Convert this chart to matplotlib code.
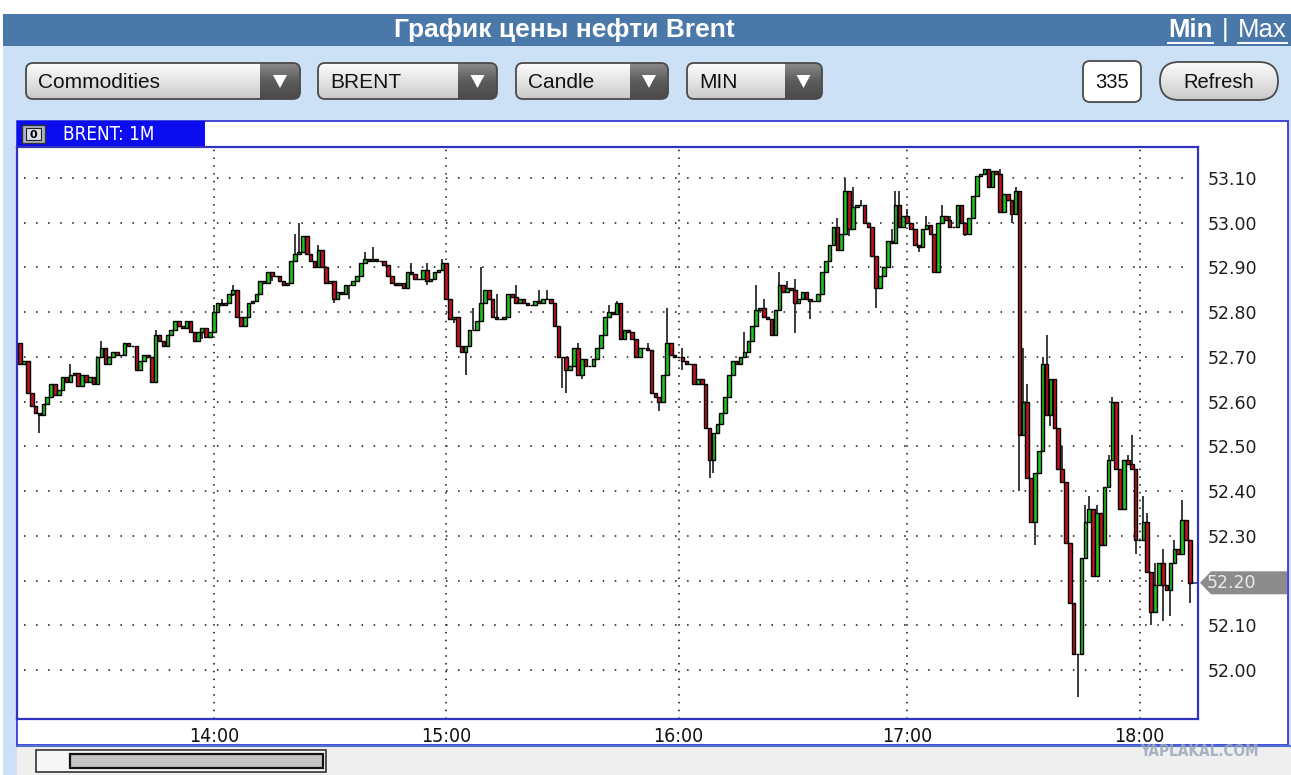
import matplotlib
matplotlib.use('Agg')
import matplotlib.pyplot as plt
from matplotlib.patches import FancyBboxPatch, Rectangle, Polygon
from matplotlib.colors import LinearSegmentedColormap
import numpy as np

# ---------------- data (BRENT, 1-minute candles) ----------------
first_open = 52.73
closes = [
    52.685, 52.69, 52.62, 52.59, 52.575, 52.57, 52.595, 52.61, 52.64, 52.615,      # 0
    52.625, 52.655, 52.645, 52.66, 52.665, 52.635, 52.66, 52.645, 52.655, 52.64,   # 10
    52.70, 52.72, 52.685, 52.70, 52.71, 52.705, 52.705, 52.73, 52.725, 52.725,     # 20
    52.67, 52.69, 52.705, 52.70, 52.645, 52.75, 52.735, 52.725, 52.75, 52.76,      # 30
    52.78, 52.77, 52.765, 52.78, 52.755, 52.735, 52.755, 52.765, 52.745, 52.755,   # 40
    52.80, 52.82, 52.815, 52.82, 52.84, 52.85, 52.79, 52.77, 52.79, 52.82,         # 50
    52.825, 52.84, 52.87, 52.865, 52.89, 52.88, 52.88, 52.87, 52.86, 52.865,       # 60
    52.915, 52.93, 52.935, 52.97, 52.93, 52.915, 52.90, 52.94, 52.90, 52.865,      # 70
    52.87, 52.83, 52.845, 52.84, 52.86, 52.86, 52.87, 52.88, 52.91, 52.92,         # 80
    52.915, 52.92, 52.915, 52.915, 52.905, 52.88, 52.865, 52.86, 52.865, 52.855,   # 90
    52.89, 52.885, 52.875, 52.875, 52.895, 52.87, 52.875, 52.89, 52.895, 52.91,    # 100
    52.83, 52.785, 52.79, 52.725, 52.71, 52.725, 52.76, 52.76, 52.78, 52.82,       # 110
    52.85, 52.83, 52.79, 52.785, 52.785, 52.79, 52.84, 52.835, 52.82, 52.83,       # 120
    52.82, 52.815, 52.815, 52.825, 52.82, 52.83, 52.83, 52.82, 52.77, 52.70,       # 130
    52.70, 52.67, 52.68, 52.72, 52.66, 52.695, 52.68, 52.68, 52.695, 52.72,        # 140
    52.75, 52.79, 52.80, 52.795, 52.82, 52.74, 52.76, 52.755, 52.74, 52.70,        # 150
    52.72, 52.72, 52.715, 52.62, 52.61, 52.60, 52.66, 52.73, 52.705, 52.70,        # 160
    52.70, 52.69, 52.685, 52.685, 52.64, 52.65, 52.64, 52.54, 52.47, 52.53,        # 170
    52.55, 52.575, 52.61, 52.66, 52.69, 52.685, 52.70, 52.71, 52.735, 52.77,       # 180
    52.805, 52.81, 52.79, 52.785, 52.75, 52.805, 52.86, 52.845, 52.855, 52.85,     # 190
    52.82, 52.83, 52.845, 52.83, 52.825, 52.825, 52.84, 52.89, 52.915, 52.95,      # 200
    52.99, 52.94, 52.975, 53.07, 52.985, 53.035, 53.04, 53.04, 53.00, 52.99,       # 210
    52.925, 52.855, 52.88, 52.90, 52.96, 52.955, 53.04, 52.99, 53.015, 53.00,      # 220
    52.985, 52.95, 52.945, 52.985, 52.995, 52.975, 52.89, 53.00, 53.015, 53.005,   # 230
    52.99, 52.99, 53.04, 53.00, 52.975, 53.01, 53.06, 53.105, 53.11, 53.12,        # 240
    53.08, 53.115, 53.11, 53.025, 53.065, 53.05, 53.02, 53.07, 52.525, 52.60,      # 250
    52.43, 52.33, 52.44, 52.49, 52.685, 52.57, 52.65, 52.54, 52.45, 52.42,         # 260
    52.285, 52.15, 52.035, 52.035, 52.25, 52.33, 52.36, 52.21, 52.35, 52.28,       # 270
    52.41, 52.47, 52.60, 52.45, 52.36, 52.47, 52.46, 52.45, 52.29, 52.29,          # 280
    52.33, 52.22, 52.13, 52.19, 52.24, 52.19, 52.18, 52.24, 52.27, 52.26,          # 290
    52.335, 52.29, 52.195,                                                          # 300
]
# wick extremes beyond the candle body (candle index -> price)
wick_highs = {13: 52.685, 21: 52.735, 35: 52.76, 50: 52.815, 52: 52.83, 55: 52.86,
              71: 52.975, 72: 53.00, 77: 52.95, 89: 52.935, 91: 52.945, 101: 52.91,
              105: 52.91, 109: 52.92, 117: 52.81, 119: 52.90, 123: 52.84, 128: 52.86,
              134: 52.85, 136: 52.85, 144: 52.73, 152: 52.815, 154: 52.825, 162: 52.73,
              167: 52.81, 171: 52.72, 187: 52.755, 190: 52.86, 192: 52.83, 196: 52.89,
              198: 52.87, 200: 52.875, 211: 53.01, 213: 53.10, 215: 53.08, 217: 53.05,
              225: 52.985, 226: 53.07, 227: 53.07, 229: 53.03, 234: 53.015, 238: 53.04,
              240: 53.015, 253: 53.12, 257: 53.08, 259: 52.72, 260: 52.64, 264: 52.70,
              265: 52.75, 269: 52.50, 275: 52.37, 276: 52.39, 278: 52.37, 281: 52.48,
              282: 52.61, 286: 52.48, 287: 52.525, 290: 52.39, 291: 52.35, 293: 52.24,
              295: 52.27, 298: 52.29, 300: 52.38}
wick_lows = {5: 52.53, 47: 52.74, 55: 52.837, 65: 52.87, 81: 52.82, 85: 52.83,
             105: 52.86, 112: 52.775, 115: 52.66, 140: 52.63, 141: 52.62, 145: 52.65,
             165: 52.58, 171: 52.67, 178: 52.43, 179: 52.44, 200: 52.753, 204: 52.785,
             214: 52.97, 221: 52.81, 232: 52.935, 244: 52.97, 256: 53.00, 258: 52.40,
             262: 52.28, 266: 52.545, 273: 51.94, 288: 52.26, 292: 52.10, 295: 52.11,
             297: 52.12, 302: 52.15}
price_ticks = ['52.00', '52.10', '52.20', '52.30', '52.40', '52.50', '52.60',
               '52.70', '52.80', '52.90', '53.00', '53.10']
hour_labels = ['14:00', '15:00', '16:00', '17:00', '18:00']
hour_candle = [50, 110, 170, 229, 289]
last_price_label = '52.20'

opens = [first_open] + closes[:-1]
highs = [max(o, c, wick_highs.get(i, -1e9)) for i, (o, c) in enumerate(zip(opens, closes))]
lows = [min(o, c, wick_lows.get(i, 1e9)) for i, (o, c) in enumerate(zip(opens, closes))]

# ---------------- figure & UI ----------------
W, H = 1291, 775
fig = plt.figure(figsize=(W / 100, H / 100), dpi=100)
fig.patch.set_facecolor('white')
ui = fig.add_axes([0, 0, 1, 1])
ui.axis('off')

SANS = ['Liberation Sans', 'DejaVu Sans']

def px_rect(x0, y0, x1, y1):
    return [x0 / W, 1 - y1 / H, (x1 - x0) / W, (y1 - y0) / H]

light_cmap = LinearSegmentedColormap.from_list('lg', ['#fdfdfd', '#e4e4e4', '#c9c9c9'])
dark_cmap = LinearSegmentedColormap.from_list('dg', ['#8a8a8a', '#5c5c5c', '#4a4a4a'])
grad = np.linspace(0, 1, 64).reshape(-1, 1)

# backgrounds
ui.add_patch(Rectangle((3, 46), W - 3, H - 46, fc='#cde1f6', ec='none', zorder=0))
ui.add_patch(Rectangle((3, 14), W - 3, 32, fc='#4a79a9', ec='none', zorder=1))
ui.add_patch(Rectangle((17, 121), W - 17 - 3, 745 - 121, fc='white', ec='#2a2ad0', lw=1.2, zorder=1))
ui.add_patch(Rectangle((17, 746), W - 17, H - 746, fc='#efefef', ec='none', zorder=1))
ui.plot([17, W], [746, 746], color='#4f6fd0', lw=1.5, zorder=2)

# header
ui.text(564, 30, 'График цены нефти Brent', color='white', fontsize=19, fontweight='bold',
        family=SANS, ha='center', va='center', zorder=3)
ui.text(1168, 30, 'Min', color='white', fontsize=18.5, fontweight='bold', family=SANS,
        ha='left', va='center', zorder=3)
ui.plot([1168, 1213], [43, 43], color='white', lw=1.4, zorder=3)
ui.text(1225, 30, '|', color='white', fontsize=18.5, family=SANS, ha='center', va='center', zorder=3)
ui.text(1238, 30, 'Max', color='white', fontsize=18.5, family=SANS, ha='left', va='center', zorder=3)
ui.plot([1238, 1287], [43, 43], color='white', lw=1.4, zorder=3)

def dropdown(x0, x1, y0, y1, split, label):
    shape = FancyBboxPatch((x0, y0), x1 - x0, y1 - y0, boxstyle='round,pad=0,rounding_size=7',
                           fc='#e6e6e6', ec='none', zorder=2)
    ui.add_patch(shape)
    im = ui.imshow(grad, extent=(x0, split, y1, y0), cmap=light_cmap, aspect='auto', zorder=2.1)
    im.set_clip_path(shape)
    im2 = ui.imshow(grad, extent=(split, x1, y1, y0), cmap=dark_cmap, aspect='auto', zorder=2.2)
    im2.set_clip_path(shape)
    ui.add_patch(FancyBboxPatch((x0, y0), x1 - x0, y1 - y0, boxstyle='round,pad=0,rounding_size=7',
                                fc='none', ec='#4a4a4a', lw=1.3, zorder=2.5))
    cx, cy = (split + x1) / 2, (y0 + y1) / 2
    ui.add_patch(Polygon([(cx - 7, cy - 6), (cx + 7, cy - 6), (cx, cy + 7)], closed=True,
                         fc='white', ec='none', zorder=2.6))
    ui.text(x0 + 12, cy + 1, label, fontsize=15, family=SANS, color='#111', ha='left',
            va='center', zorder=3)

dropdown(26, 300, 63, 99, 260, 'Commodities')
dropdown(318, 497, 63, 99, 458, 'BRENT')
dropdown(516, 668, 63, 99, 630, 'Candle')
dropdown(687, 822, 63, 99, 785, 'MIN')

ui.add_patch(FancyBboxPatch((1083, 61), 58, 41, boxstyle='round,pad=0,rounding_size=7',
                            fc='white', ec='#4a4a4a', lw=1.3, zorder=2))
ui.text(1112, 82, '335', fontsize=14.5, family=SANS, color='#111', ha='center', va='center', zorder=3)
pill = FancyBboxPatch((1160, 62), 118, 38, boxstyle='round,pad=0,rounding_size=19',
                      fc='#e6e6e6', ec='none', zorder=2)
ui.add_patch(pill)
imp = ui.imshow(grad, extent=(1160, 1278, 100, 62), cmap=light_cmap, aspect='auto', zorder=2.1)
imp.set_clip_path(pill)
ui.add_patch(FancyBboxPatch((1160, 62), 118, 38, boxstyle='round,pad=0,rounding_size=19',
                            fc='none', ec='#4a4a4a', lw=1.3, zorder=2.5))
ui.text(1219, 82, 'Refresh', fontsize=14.5, family=SANS, color='#111', ha='center', va='center', zorder=3)

# chart tab
ui.add_patch(Rectangle((17, 121), 188, 26, fc='#0c0cf0', ec='none', zorder=2))
ui.add_patch(Rectangle((22, 125), 23, 18, fc='#aeb6c6', ec='#333', lw=1, zorder=3))
ui.add_patch(Rectangle((26, 128), 15, 12, fc='#d8dde6', ec='#222', lw=0.8, zorder=3.1))
ui.text(33.5, 134.5, '0', fontsize=8, fontweight='bold', color='black', ha='center', va='center',
        family='DejaVu Sans', zorder=4)
ui.text(63, 135, 'BRENT: 1M', fontsize=13.5, color='white', ha='left', va='center',
        family='DejaVu Sans', stretch='condensed', zorder=4)

# scrollbar
ui.add_patch(Rectangle((36, 750), 290, 22, fc='#f7f7f7', ec='#333', lw=1.2, zorder=2))
ui.add_patch(Rectangle((70, 754), 253, 14, fc='#c4c4c4', ec='#111', lw=1.6, zorder=3))
ui.text(1200, 752, 'YAPLAKAL.COM', fontsize=11, fontweight='bold', color='#9aa8bb', alpha=0.85,
        ha='center', va='center', family='DejaVu Sans', stretch='condensed', zorder=5)

ui.set_xlim(0, W)
ui.set_ylim(H, 0)

# ---------------- chart ----------------
ax = fig.add_axes(px_rect(17, 147, 1198, 719))
ax.set_facecolor('white')
n = len(closes)
x = np.arange(n)
ax.set_xlim(-0.8, n + 1.1)
ax.set_ylim(51.8905, 53.1693)

tick_vals = [float(t) for t in price_ticks]
for v in tick_vals:
    ax.axhline(v, xmin=0.006, xmax=0.995, color='#444444', lw=1.4, dashes=(0.8, 5.4), zorder=0.5)
for h in hour_candle:
    ax.axvline(h, color='#444444', lw=1.4, dashes=(0.8, 3.2), zorder=0.5)

ax.vlines(x, lows, highs, color='#1a1a1a', lw=1.2, zorder=1)
up_col, dn_col = '#1ec31e', '#be1320'
cols = [up_col if c > o else (dn_col if c < o else 'black') for o, c in zip(opens, closes)]
bottoms = [min(o, c) for o, c in zip(opens, closes)]
heights = [abs(c - o) for o, c in zip(opens, closes)]
ax.bar(x, heights, bottom=bottoms, width=0.92, color=cols, edgecolor='black', linewidth=1.0, zorder=2)

# last-price connector
ax.plot([n - 1, n + 1.1], [closes[-1]] * 2, color='#3030c0', lw=1.2, zorder=1.5, clip_on=False)

for s in ax.spines.values():
    s.set_color('#3232c0')
    s.set_linewidth(1.6)

ax.yaxis.tick_right()
ax.set_yticks(tick_vals)
ax.set_yticklabels(['' if t == last_price_label else t for t in price_ticks])
ax.tick_params(axis='y', length=0, pad=7, labelsize=12.5, labelcolor='#1e1e1e')
ax.set_xticks(hour_candle)
ax.set_xticklabels(hour_labels)
ax.tick_params(axis='x', length=0, pad=6, labelsize=14, labelcolor='#111')
for lab in ax.get_xticklabels():
    lab.set_fontstretch('condensed')
for lab in ax.get_yticklabels():
    lab.set_family('DejaVu Sans')

# last price marker (figure-pixel coordinates from the chart's data transform)
_, ydisp = ax.transData.transform((0, closes[-1]))
ym = H - ydisp
ui.add_patch(Polygon([(1200, ym), (1211, ym - 11.5), (1287, ym - 11.5), (1287, ym + 11.5),
                      (1211, ym + 11.5)], closed=True, fc='#8c8c8c', ec='none', zorder=5))
ui.text(1207, ym + 0.5, last_price_label, fontsize=12.5, color='#ececec', ha='left', va='center',
        family='DejaVu Sans', zorder=6)

fig.savefig('out.png', dpi=100)
